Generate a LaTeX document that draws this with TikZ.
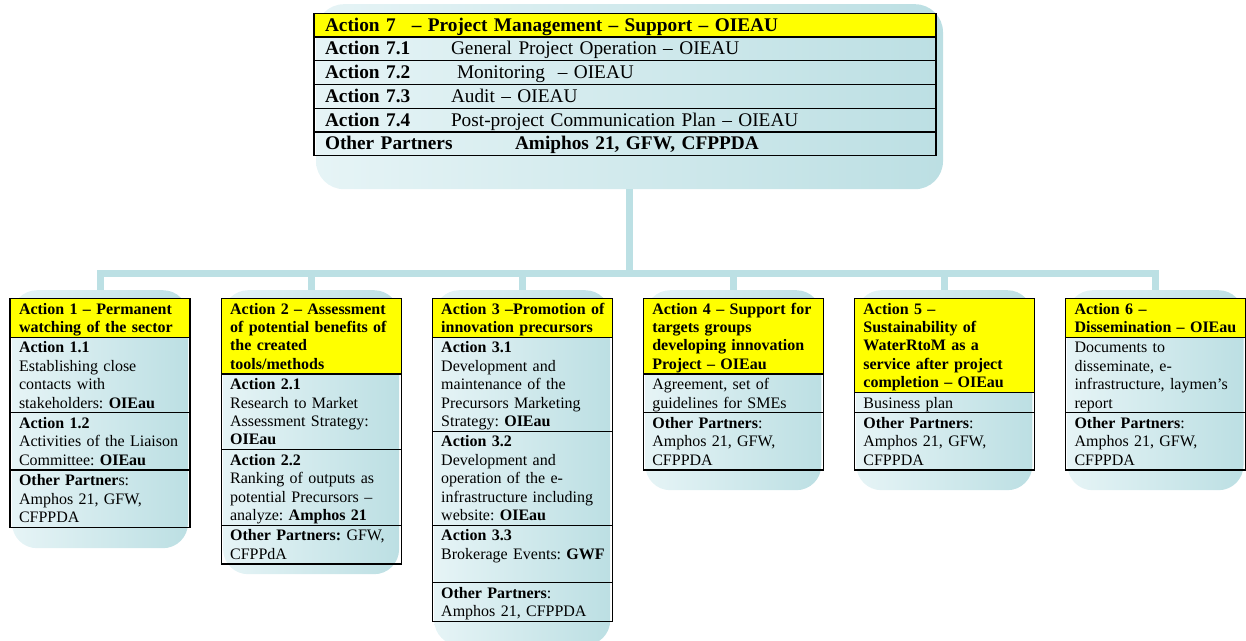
\documentclass[tikz,border=0pt]{standalone}
\usepackage{fontspec}
\setmainfont{Liberation Serif}
\usetikzlibrary{positioning}

\definecolor{hilite}{HTML}{FFFF00}
\definecolor{paleleft}{HTML}{E6F4F6}
\definecolor{paleright}{HTML}{BCDFE3}
\definecolor{linkblue}{HTML}{BCE0E4}

\newcommand{\rowstrut}{\rule[-3.7pt]{0pt}{18.4pt}}
\newcommand{\celltext}[1]{\leftskip=4pt\relax\rowstrut#1\rowstrut\par}
\frenchspacing

\begin{document}
\begin{tikzpicture}[x=1pt, y=-1pt,
    panel/.style={draw=none, rounded corners=25pt, left color=paleleft, right color=paleright, anchor=north, inner sep=0pt},
    link/.style={draw=linkblue, line width=7pt},
    cell/.style={draw, line width=1.2pt, outer sep=0pt, inner xsep=5pt, inner ysep=1pt, text width=170pt, align=left, anchor=north,
      font=\fontsize{16}{18.4}\selectfont},
    head/.style={cell, fill=hilite, font=\fontsize{16}{18.4}\selectfont\bfseries},
    toprow/.style={draw, line width=1.2pt, outer sep=0pt, inner xsep=11pt, inner ysep=0pt, text width=600pt, align=left, anchor=north,
      minimum height=23.75pt, text height=16pt, text depth=4pt, font=\fontsize{19.3}{24}\selectfont}]
    \useasboundingbox (0, 0) rectangle (1246, 640);

    % connectors
    \node (bg7) [panel, rounded corners=28pt, minimum width=627pt, minimum height=185pt] at (629.5, 4) {};
    \coordinate (hub) at (629.5, 273);
    \draw [link] (bg7.south) -- (hub);
    \coordinate (d1) at (100, 290);
    \coordinate (d2) at (311.1, 290);
    \coordinate (d3) at (522.2, 290);
    \coordinate (d4) at (733.3, 290);
    \coordinate (d5) at (944.4, 290);
    \coordinate (d6) at (1155.5, 290);
    \draw [link] (hub) -| (d1);
    \draw [link] (hub) -| (d2);
    \draw [link] (hub) -| (d3);
    \draw [link] (hub) -| (d4);
    \draw [link] (hub) -| (d5);
    \draw [link] (hub) -| (d6);

    % panels behind the action boxes
    \node (bg1) [panel, minimum width=176pt, minimum height=258pt] at (d1) {};
    \node (bg2) [panel, minimum width=176pt, minimum height=284pt] at (d2) {};
    \node (bg3) [panel, minimum width=176pt, minimum height=355pt] at (d3) {};
    \node (bg4) [panel, minimum width=176pt, minimum height=200pt] at (d4) {};
    \node (bg5) [panel, minimum width=176pt, minimum height=200pt] at (d5) {};
    \node (bg6) [panel, minimum width=176pt, minimum height=200pt] at (d6) {};

    % action 7
    \node (a7) [toprow, fill=hilite] at (625, 13.3) {\textbf{Action 7\hspace{16pt}– Project Management – Support – OIEAU}};
    \node (a71) [toprow, below=0pt of a7] {\makebox[126pt][l]{\textbf{Action 7.1}}General Project Operation – OIEAU};
    \node (a72) [toprow, below=0pt of a71] {\makebox[132pt][l]{\textbf{Action 7.2}}Monitoring\ \ – OIEAU};
    \node (a73) [toprow, below=0pt of a72] {\makebox[126pt][l]{\textbf{Action 7.3}}Audit – OIEAU};
    \node (a74) [toprow, below=0pt of a73] {\makebox[126pt][l]{\textbf{Action 7.4}}Post-project Communication Plan – OIEAU};
    \node (a7p) [toprow, below=0pt of a74] {\makebox[190pt][l]{\textbf{Other Partners}}\textbf{Amiphos 21, GFW, CFPPDA}};

    % action 1
    \node (a1) [head] at (100, 298.3) {\celltext{Action 1 – Permanent\\watching of the sector}};
    \node (a11) [cell, below=0pt of a1] {\celltext{\textbf{Action 1.1}\\Establishing close\\contacts with\\stakeholders: \textbf{OIEau}}};
    \node (a12) [cell, below=0pt of a11] {\celltext{\textbf{Action 1.2}\\Activities of the Liaison\\Committee: \textbf{OIEau}}};
    \node (a1p) [cell, below=0pt of a12] {\celltext{\textbf{Other Partner}s:\\Amphos 21, GFW,\\CFPPDA}};

    % action 2
    \node (a2) [head] at (311.1, 298.3) {\celltext{Action 2 – Assessment\\of potential benefits of\\the created\\tools/methods}};
    \node (a21) [cell, below=0pt of a2] {\celltext{\textbf{Action 2.1}\\Research to Market\\Assessment Strategy:\\\textbf{OIEau}}};
    \node (a22) [cell, below=0pt of a21] {\celltext{\textbf{Action 2.2}\\Ranking of outputs as\\potential Precursors –\\analyze: \textbf{Amphos 21}}};
    \node (a2p) [cell, below=0pt of a22] {\celltext{\textbf{Other Partners:} GFW,\\CFPPdA}};

    % action 3
    \node (a3) [head] at (522.2, 298.3) {\celltext{Action 3 –Promotion of\\innovation precursors}};
    \node (a31) [cell, below=0pt of a3] {\celltext{\textbf{Action 3.1}\\Development and\\maintenance of the\\Precursors Marketing\\Strategy: \textbf{OIEau}}};
    \node (a32) [cell, below=0pt of a31] {\celltext{\textbf{Action 3.2}\\Development and\\operation of the e-\\infrastructure including\\website: \textbf{OIEau}}};
    \node (a33) [cell, below=0pt of a32] {\celltext{\textbf{Action 3.3}\\Brokerage Events: \textbf{GWF}\\}};
    \node (a3p) [cell, below=0pt of a33] {\celltext{\textbf{Other Partners}:\\Amphos 21, CFPPDA}};

    % action 4
    \node (a4) [head] at (733.3, 298.3) {\celltext{Action 4 – Support for\\targets groups\\developing innovation\\Project – OIEau}};
    \node (a41) [cell, below=0pt of a4] {\celltext{Agreement, set of\\guidelines for SMEs}};
    \node (a4p) [cell, below=0pt of a41] {\celltext{\textbf{Other Partners}:\\Amphos 21, GFW,\\CFPPDA}};

    % action 5
    \node (a5) [head] at (944.4, 298.3) {\celltext{Action 5 –\\Sustainability of\\WaterRtoM as a\\service after project\\completion – OIEau}};
    \node (a51) [cell, below=0pt of a5] {\celltext{Business plan}};
    \node (a5p) [cell, below=0pt of a51] {\celltext{\textbf{Other Partners}:\\Amphos 21, GFW,\\CFPPDA}};

    % action 6
    \node (a6) [head] at (1155.5, 298.3) {\celltext{Action 6 –\\Dissemination – OIEau}};
    \node (a61) [cell, below=0pt of a6] {\celltext{Documents to\\disseminate, e-\\infrastructure, laymen’s\\report}};
    \node (a6p) [cell, below=0pt of a61] {\celltext{\textbf{Other Partners}:\\Amphos 21, GFW,\\CFPPDA}};
  \end{tikzpicture}
\end{document}
